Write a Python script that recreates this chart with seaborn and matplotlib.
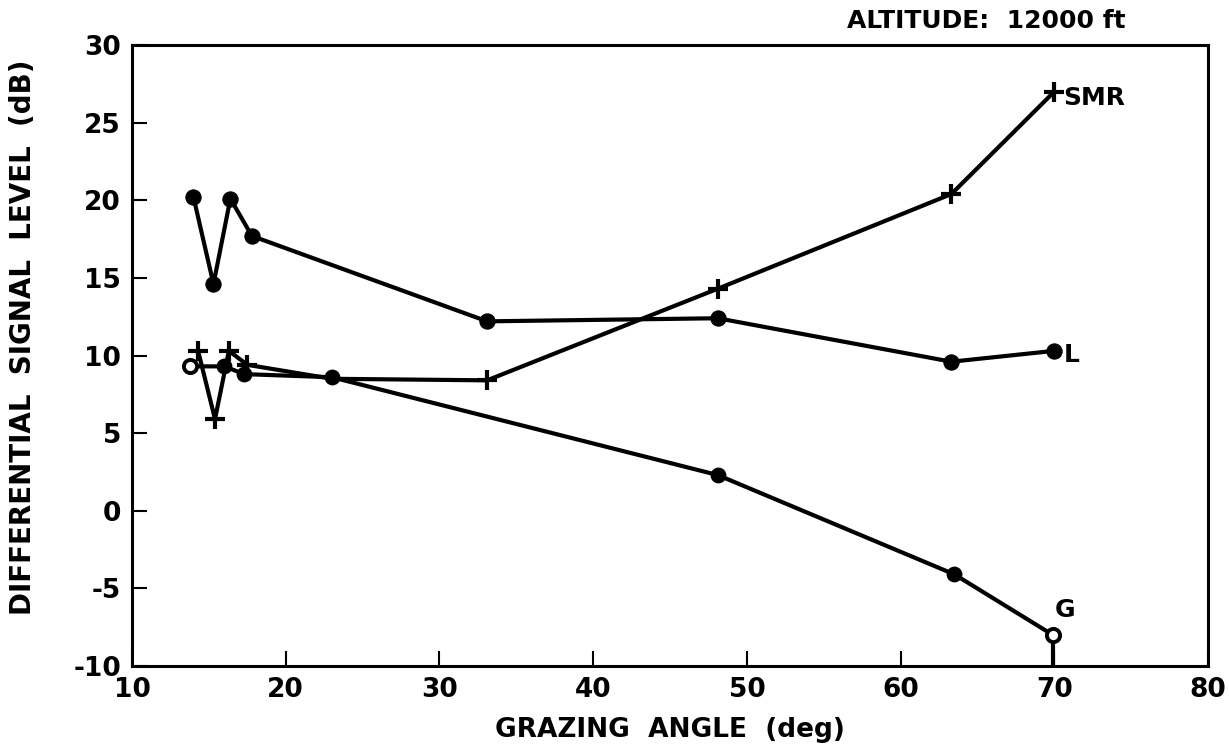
import matplotlib
matplotlib.use("Agg")
import matplotlib.pyplot as plt
import seaborn as sns
import pandas as pd

# Grazing angle (deg) and differential signal level (dB) per curve
smr_angle = [14.3, 15.4, 16.3, 17.5, 23.0, 33.1, 48.1, 63.3, 70.0]
smr_level = [10.3, 5.9, 10.3, 9.4, 8.5, 8.4, 14.3, 20.4, 27.0]

l_angle = [14.0, 15.3, 16.4, 17.8, 33.1, 48.1, 63.3, 70.0]
l_level = [20.2, 14.6, 20.1, 17.7, 12.2, 12.4, 9.6, 10.3]

g_angle = [13.8, 16.0, 17.3, 23.0, 48.1, 63.5, 69.9]
g_level = [9.3, 9.3, 8.8, 8.6, 2.3, -4.1, -8.0]

x_ticks = [10, 20, 30, 40, 50, 60, 70, 80]
y_ticks = [-10, -5, 0, 5, 10, 15, 20, 25, 30]

sns.set_style("white")
plt.rcParams["font.family"] = ["DejaVu Sans"]
plt.rcParams["font.weight"] = "bold"

fig = plt.figure(figsize=(12.29, 7.5), dpi=100)
ax = fig.add_axes([0.1074, 0.112, 0.8756, 0.828])

ink = "black"
lw = 3.0

smr = pd.DataFrame({"angle": smr_angle, "level": smr_level})
lev = pd.DataFrame({"angle": l_angle, "level": l_level})
gnd = pd.DataFrame({"angle": g_angle, "level": g_level})

# the SMR point at 23 deg sits under a G dot, so its cross is not drawn
smr_marks = [i for i, a in enumerate(smr_angle) if a != 23.0]
sns.lineplot(data=smr, x="angle", y="level", sort=False, color=ink,
             linewidth=lw, marker="+", markersize=14, markeredgewidth=3.0,
             markeredgecolor=ink, markevery=smr_marks, ax=ax)
sns.lineplot(data=lev, x="angle", y="level", sort=False, color=ink,
             linewidth=lw, marker="o", markersize=11, markeredgecolor=ink,
             markerfacecolor=ink, ax=ax)
sns.lineplot(data=gnd, x="angle", y="level", sort=False, color=ink,
             linewidth=lw, ax=ax)
# G curve: filled dots inside, open circles at both ends
mid = gnd.iloc[1:-1]
ends = gnd.iloc[[0, -1]]
sns.scatterplot(data=mid, x="angle", y="level", color=ink, s=130,
                edgecolor=ink, linewidth=0, ax=ax, zorder=4)
sns.scatterplot(data=ends, x="angle", y="level", facecolor="white", s=90,
                edgecolor=ink, linewidth=2.8, ax=ax, zorder=5)
# stem below the last G point
ax.vlines(g_angle[-1], -10, g_level[-1] - 0.4, color=ink, lw=3.0, zorder=3)

# curve labels
lab_kw = dict(fontsize=18, color=ink, va="center", ha="left",
              fontweight="bold")
ax.text(smr_angle[-1] + 0.6, smr_level[-1] - 0.4, "SMR", **lab_kw)
ax.text(l_angle[-1] + 0.6, l_level[-1] - 0.3, "L", **lab_kw)
ax.text(g_angle[-1] + 0.1, g_level[-1] + 1.6, "G", **lab_kw)

ax.set_xlim(10, 80)
ax.set_ylim(-10, 30)
ax.set_xticks(x_ticks)
ax.set_yticks(y_ticks)
ax.set_xticklabels([str(t) for t in x_ticks], fontsize=19, color=ink,
                   fontweight="bold")
ax.set_yticklabels([str(t) for t in y_ticks], fontsize=19, color=ink,
                   fontweight="bold")
ax.tick_params(direction="in", length=11, width=1.5, color=ink,
               bottom=True, left=True, top=False, right=False, pad=8)

for side in ["left", "bottom", "top", "right"]:
    ax.spines[side].set_color(ink)
    ax.spines[side].set_linewidth(2.2)

ax.set_xlabel("GRAZING  ANGLE  (deg)", fontsize=19, labelpad=10, color=ink,
              fontweight="bold")
ax.set_ylabel("DIFFERENTIAL  SIGNAL  LEVEL  (dB)", fontsize=20,
              color=ink, fontweight="bold")
ax.yaxis.set_label_coords(-0.088, 0.53)

fig.text(0.916, 0.972, "ALTITUDE:  12000 ft", fontsize=18, ha="right",
         va="center", color=ink, fontweight="bold")

fig.savefig("out.png", dpi=100, facecolor="white")
